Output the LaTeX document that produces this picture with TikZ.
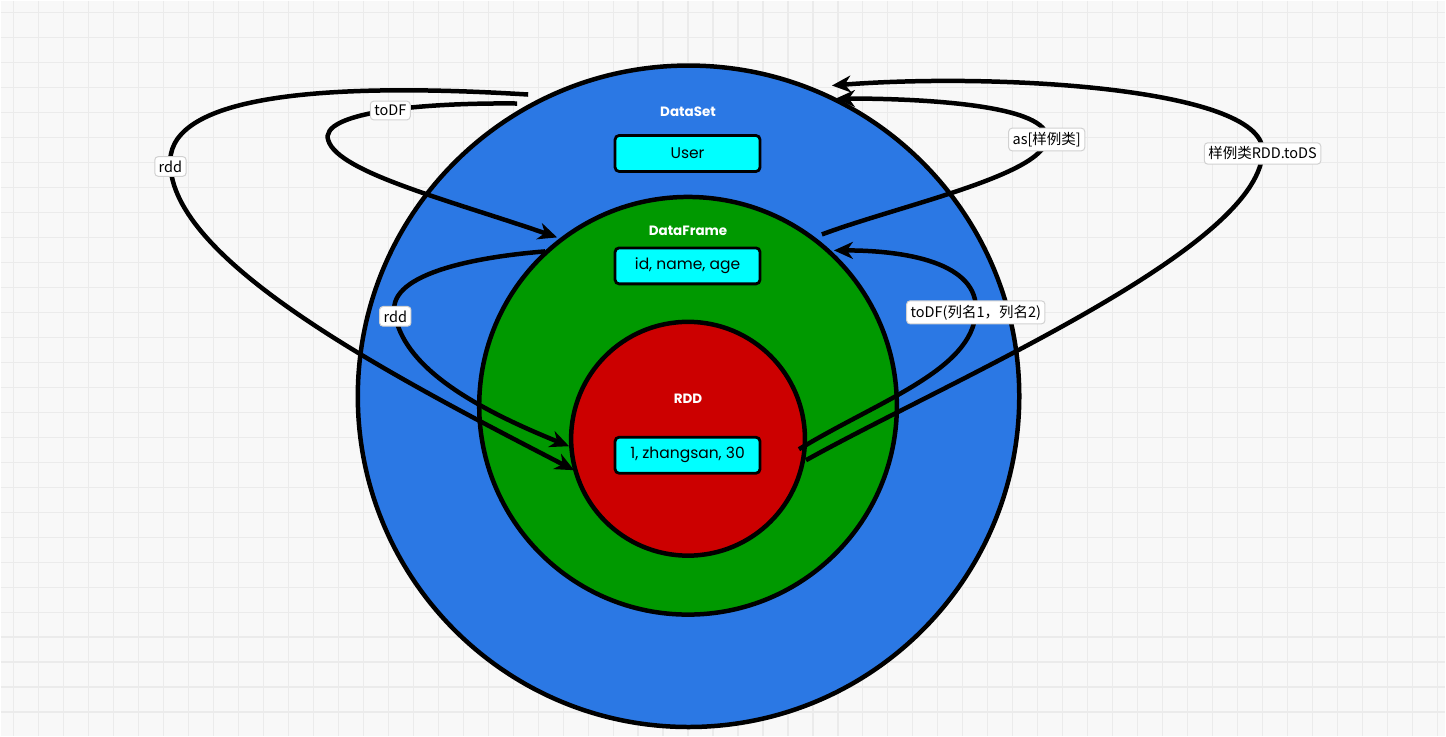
\documentclass[tikz,border=0pt]{standalone}
\usepackage{fontspec}
\setmainfont{Poppins}
\newfontfamily\cjkfont{Noto Sans CJK SC}
\usetikzlibrary{arrows.meta}
\definecolor{dsblue}{HTML}{2B78E4}
\definecolor{dfgreen}{HTML}{009900}
\definecolor{rddred}{HTML}{CC0000}
\definecolor{bgc}{HTML}{F8F8F8}
\definecolor{gridc}{HTML}{EBEBEB}
\definecolor{boxc}{HTML}{00FFFF}
\tikzset{
  ring/.style={circle, draw=black, line width=4.5pt, inner sep=0pt},
  title/.style={text=white, font=\bfseries\fontsize{13.5}{16}\selectfont},
  databox/.style={draw=black, line width=2.8pt, fill=boxc, rounded corners=4pt,
     minimum width=145pt, minimum height=36pt, font=\fontsize{15.5}{18}\selectfont},
  conn/.style={draw=black, line width=4.5pt, -{Stealth[length=19pt,width=17pt,inset=6pt]}},
  lbl/.style={fill=white, draw=black!18, line width=1pt, rounded corners=3.5pt,
     inner sep=4pt, font=\cjkfont\fontsize{14.5}{16}\selectfont, text=black}
}
\begin{document}
\begin{tikzpicture}[x=1pt,y=-1pt]
\fill[bgc] (0,0) rectangle (1446,736);
\foreach \x in {13,38,...,1446} \draw[gridc, line width=1.2pt] (\x,0) -- (\x,736);
\foreach \y in {12,37,...,736} \draw[gridc, line width=1.2pt] (0,\y) -- (1446,\y);
\useasboundingbox (0,0) rectangle (1446,736);

% circles
\node[ring, fill=dsblue, minimum size=662pt] (ds) at (688.5,396) {};
\node[ring, fill=dfgreen, minimum size=418pt] (df) at (688,405.5) {};
\node[ring, fill=rddred, minimum size=234pt] (rdd) at (688,438.5) {};

% titles and boxes
\node[title] (dst) at (688,111) {DataSet};
\node[databox] (user) at (687.5,153) {User};
\node[title] (dft) at (688,230) {DataFrame};
\node[databox] (cols) at (687.5,265.5) {id, name, age};
\node[title] (rddt) at (688,398) {RDD};
\node[databox] (row) at (687.5,455) {1, zhangsan, 30};

% connector end points
\coordinate (a1s) at (528,94);
\coordinate (a1t) at (574,470);
\coordinate (a2s) at (517,103);
\coordinate (a2t) at (557,237);
\coordinate (a3s) at (545,251);
\coordinate (a3t) at (569,446);
\coordinate (a4s) at (822,234);
\coordinate (a4t) at (836,98);
\coordinate (a5s) at (806,460);
\coordinate (a5t) at (832,85);
\coordinate (a6s) at (799,449);
\coordinate (a6t) at (834,250);

% connectors
\draw[conn] (a1s) .. controls (300,80) and (163,100) .. (170,166)
  node[lbl] (l1) {rdd}
  .. controls (176,265) and (400,380) .. (a1t);
\draw[conn] (a2s) .. controls (420,102) and (318,112) .. (328,140)
  .. controls (338,172) and (450,200) .. (a2t);
\node[lbl] (l2) at (390,110) {toDF};
\draw[conn] (a3s) .. controls (470,257) and (383,275) .. (395,316)
  node[lbl] (l3) {rdd}
  .. controls (406,370) and (480,410) .. (a3t);
\draw[conn] (a4s) .. controls (900,205) and (1042,175) .. (1047,139)
  node[lbl] (l4) {as[样例类]}
  .. controls (1052,104) and (920,98) .. (a4t);
\draw[conn] (a5s) .. controls (950,380) and (1256,250) .. (1263,153)
  node[lbl] (l5) {样例类RDD.toDS}
  .. controls (1270,88) and (1000,72) .. (a5t);
\draw[conn] (a6s) .. controls (880,400) and (972,370) .. (976,312)
  node[lbl] (l6) {toDF(列名1，列名2)}
  .. controls (980,262) and (905,250) .. (a6t);
\end{tikzpicture}
\end{document}
